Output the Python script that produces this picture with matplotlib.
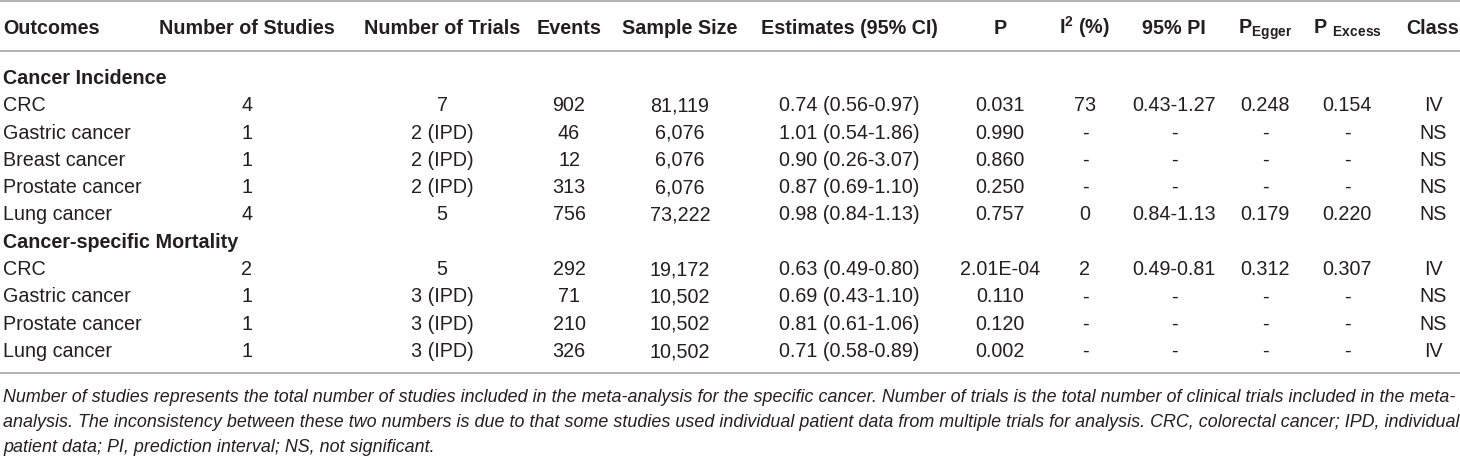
import matplotlib
matplotlib.use("Agg")
import matplotlib.pyplot as plt

# columns of the table
groups = ["Cancer Incidence", "Cancer-specific Mortality"]
group_sizes = [5, 4]
outcome = ["CRC", "Gastric cancer", "Breast cancer", "Prostate cancer", "Lung cancer",
           "CRC", "Gastric cancer", "Prostate cancer", "Lung cancer"]
n_studies = ["4", "1", "1", "1", "4", "2", "1", "1", "1"]
n_trials = ["7", "2 (IPD)", "2 (IPD)", "2 (IPD)", "5", "5", "3 (IPD)", "3 (IPD)", "3 (IPD)"]
events = ["902", "46", "12", "313", "756", "292", "71", "210", "326"]
sample_size = ["81,119", "6,076", "6,076", "6,076", "73,222",
               "19,172", "10,502", "10,502", "10,502"]
estimates = ["0.74 (0.56-0.97)", "1.01 (0.54-1.86)", "0.90 (0.26-3.07)", "0.87 (0.69-1.10)",
             "0.98 (0.84-1.13)", "0.63 (0.49-0.80)", "0.69 (0.43-1.10)", "0.81 (0.61-1.06)",
             "0.71 (0.58-0.89)"]
p_value = ["0.031", "0.990", "0.860", "0.250", "0.757", "2.01E-04", "0.110", "0.120", "0.002"]
i2 = ["73", "-", "-", "-", "0", "2", "-", "-", "-"]
pi95 = ["0.43-1.27", "-", "-", "-", "0.84-1.13", "0.49-0.81", "-", "-", "-"]
p_egger = ["0.248", "-", "-", "-", "0.179", "0.312", "-", "-", "-"]
p_excess = ["0.154", "-", "-", "-", "0.220", "0.307", "-", "-", "-"]
klass = ["IV", "NS", "NS", "NS", "NS", "IV", "NS", "NS", "IV"]

headers = ["Outcomes", "Number of Studies", "Number of Trials", "Events", "Sample Size",
           "Estimates (95% CI)", "P", r"$\mathbf{I^2}$ (%)", "95% PI",
           r"$\mathbf{P_{Egger}}$", r"$\mathbf{P\ _{Excess}}$", "Class"]
footnote = [
    "Number of studies represents the total number of studies included in the meta-analysis "
    "for the specific cancer. Number of trials is the total number of clinical trials included in the meta-",
    "analysis. The inconsistency between these two numbers is due to that some studies used individual "
    "patient data from multiple trials for analysis. CRC, colorectal cancer; IPD, individual",
    "patient data; PI, prediction interval; NS, not significant.",
]

plt.rcParams["font.family"] = ["Liberation Sans", "DejaVu Sans"]
plt.rcParams["mathtext.fontset"] = "custom"
plt.rcParams["mathtext.rm"] = "Liberation Sans"
plt.rcParams["mathtext.bf"] = "Liberation Sans:bold"

W, H = 1460, 457
fig = plt.figure(figsize=(W / 100, H / 100), dpi=100)
ax = fig.add_axes([0, 0, 1, 1])
ax.set_xlim(0, W)
ax.set_ylim(H, 0)
ax.axis("off")

ink = "#231f20"
rule = "#a6a6a6"
fs = 14.2          # table text, pt
col_x = [3, 247, 442, 569, 680, 849, 1000, 1085, 1174, 1265, 1347, 1433]
row0, dy = 77, 27.3
cap = 7            # half cap height in px, baseline offset from row centre

for y in (1, 51, 373):
    ax.plot([0, W], [y, y], color=rule, lw=1.2, solid_capstyle="butt")

for j, (x, h) in enumerate(zip(col_x, headers)):
    ax.text(x, 27 + cap, h, ha="left" if j == 0 else "center", va="baseline",
            fontsize=fs, fontweight="bold", color=ink)

columns = [outcome, n_studies, n_trials, events, sample_size, estimates,
           p_value, i2, pi95, p_egger, p_excess, klass]
r = 0
k = 0
for g, n in zip(groups, group_sizes):
    ax.text(col_x[0], row0 + r * dy + cap, g, ha="left", va="baseline",
            fontsize=fs, fontweight="bold", color=ink)
    r += 1
    for _ in range(n):
        y = row0 + r * dy + cap
        for j, col in enumerate(columns):
            ax.text(col_x[j], y, col[k], ha="left" if j == 0 else "center",
                    va="baseline", fontsize=fs, color=ink)
        r += 1
        k += 1

# footnote: size the first line so it spans the table width
renderer = fig.canvas.get_renderer()
probe = ax.text(3, 0, footnote[0], fontsize=10, style="italic")
w10 = probe.get_window_extent(renderer).width
probe.remove()
fn_size = 10 * 1450 / w10
for i, line in enumerate(footnote):
    ax.text(3, 396 + 25 * i + 6, line, ha="left", va="baseline",
            fontsize=fn_size, style="italic", color=ink)

fig.savefig("out.png", dpi=100)
